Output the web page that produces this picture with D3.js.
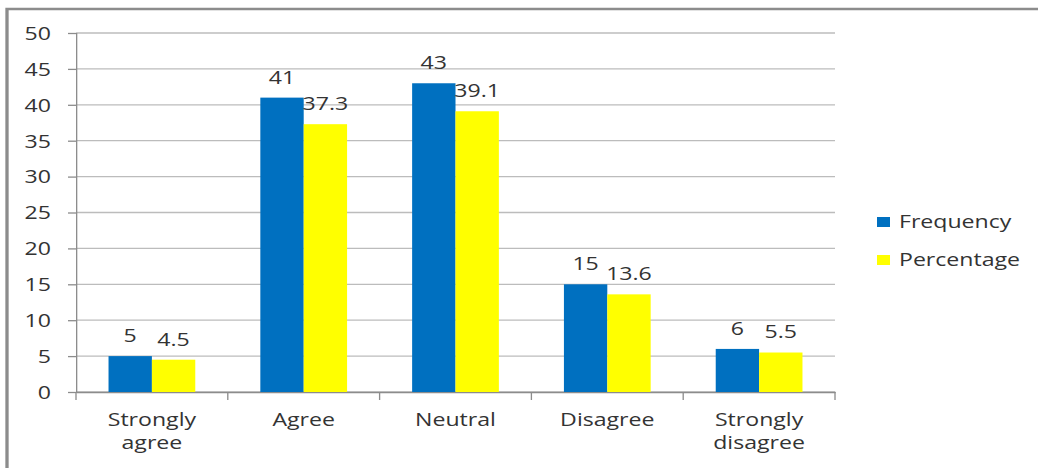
<!DOCTYPE html>
<html lang="en">
<head>
    <meta charset="UTF-8">
    <title>Frequency / Percentage</title>
    <script src="https://cdnjs.cloudflare.com/ajax/libs/d3/7.8.5/d3.min.js"></script>
    <style>
        html, body { margin: 0; padding: 0; background: #fff; }
        svg { display: block; }
        text { font-family: "Open Sans", sans-serif; fill: #333; }
    </style>
</head>
<body>
    <div id="wrapper"></div>
    <script>
        // data
        const categories = ['Strongly agree', 'Agree', 'Neutral', 'Disagree', 'Strongly disagree']
        const categoryLines = [['Strongly', 'agree'], ['Agree'], ['Neutral'], ['Disagree'], ['Strongly', 'disagree']]
        const seriesNames = ['Frequency', 'Percentage']
        const frequency = [5, 41, 43, 15, 6]
        const percentage = [4.5, 37.3, 39.1, 13.6, 5.5]
        const yTicks = [0, 5, 10, 15, 20, 25, 30, 35, 40, 45, 50]
        const colors = ['#0070C0', '#FFFF00']

        function drawChart() {
            // the picture is stretched sideways, so draw in a narrower box and stretch it
            const sx = 1.32
            const width = 1038
            const height = 468
            const X = px => px / sx

            const svg = d3.select('#wrapper')
                .append('svg')
                    .attr('width', width)
                    .attr('height', height)
                    .attr('viewBox', `0 0 ${X(width)} ${height}`)
                    .attr('preserveAspectRatio', 'none')

            // chart frame
            svg.append('rect')
                .attr('x', X(7))
                .attr('y', 9)
                .attr('width', X(1100))
                .attr('height', 600)
                .attr('fill', 'none')
                .attr('stroke', '#8c8c8c')
                .attr('stroke-width', 2.5)

            const plot = { left: 76, right: 835, top: 33, bottom: 392 }

            const xScale = d3.scaleBand()
                .domain(categories)
                .range([X(plot.left), X(plot.right)])
                .paddingInner(0)
                .paddingOuter(0)

            // gap width 150%: each bar is 1 / 3.5 of a category
            const xSub = d3.scaleBand()
                .domain(seriesNames)
                .range([0, xScale.bandwidth()])
                .paddingInner(0)
                .paddingOuter(0.75)

            const yScale = d3.scaleLinear()
                .domain([0, 50])
                .range([plot.bottom, plot.top])

            // gridlines
            svg.append('g')
                .selectAll('line')
                .data(yTicks)
                .join('line')
                    .attr('x1', X(plot.left))
                    .attr('x2', X(plot.right))
                    .attr('y1', d => yScale(d))
                    .attr('y2', d => yScale(d))
                    .attr('stroke', '#bcbcbc')
                    .attr('stroke-width', 1.3)

            // y axis
            const yAxis = svg.append('g')
                .attr('transform', `translate(${X(plot.left)},0)`)
                .call(d3.axisLeft(yScale).tickValues(yTicks).tickSize(X(8)).tickPadding(X(17)))
            yAxis.select('.domain').attr('stroke', '#8c8c8c').attr('stroke-width', 1)
            yAxis.selectAll('.tick line').attr('stroke', '#8c8c8c').attr('stroke-width', 1.3)
            yAxis.selectAll('.tick text')
                .style('font-family', '"Open Sans", sans-serif')
                .style('font-size', '17.5px')
                .attr('fill', '#333')
                .attr('dy', '0.36em')

            // x axis
            const xAxis = svg.append('g')
                .attr('transform', `translate(0,${plot.bottom})`)
                .call(d3.axisBottom(xScale).tickSize(0).tickFormat(''))
            xAxis.select('.domain').attr('stroke', '#8c8c8c').attr('stroke-width', 1.3)
            xAxis.selectAll('.tick').remove()

            // category separators
            const edges = categories.map(c => xScale(c)).concat([xScale.range()[1]])
            svg.append('g')
                .selectAll('line')
                .data(edges)
                .join('line')
                    .attr('x1', d => d)
                    .attr('x2', d => d)
                    .attr('y1', plot.bottom)
                    .attr('y2', plot.bottom + 8)
                    .attr('stroke', '#8c8c8c')
                    .attr('stroke-width', 1)

            // category labels
            svg.append('g')
                .selectAll('text')
                .data(categories)
                .join('text')
                    .attr('x', d => xScale(d) + xScale.bandwidth() / 2)
                    .attr('y', 426)
                    .attr('text-anchor', 'middle')
                    .style('font-size', '17.5px')
                    .selectAll('tspan')
                    .data((d, i) => categoryLines[i])
                    .join('tspan')
                        .attr('x', function() { return this.parentNode.getAttribute('x') })
                        .attr('dy', (d, i) => i === 0 ? 0 : 23)
                        .text(d => d)

            // bars
            const rows = categories.map((c, i) => ({ category: c, values: [frequency[i], percentage[i]] }))

            const groups = svg.append('g')
                .selectAll('g')
                .data(rows)
                .join('g')
                    .attr('transform', d => `translate(${xScale(d.category)},0)`)

            groups.selectAll('rect')
                .data(d => d.values.map((v, j) => ({ series: seriesNames[j], value: v, j })))
                .join('rect')
                    .attr('x', d => xSub(d.series))
                    .attr('width', xSub.bandwidth())
                    .attr('y', d => yScale(d.value))
                    .attr('height', d => yScale(0) - yScale(d.value))
                    .attr('fill', d => colors[d.j])

            // data labels
            groups.selectAll('text')
                .data(d => d.values.map((v, j) => ({ series: seriesNames[j], value: v })))
                .join('text')
                    .attr('x', d => xSub(d.series) + xSub.bandwidth() / 2)
                    .attr('y', d => yScale(d.value) - 14)
                    .attr('text-anchor', 'middle')
                    .style('font-size', '17.5px')
                    .text(d => d.value)

            // legend
            const legend = svg.append('g')
                .selectAll('g')
                .data(seriesNames)
                .join('g')
                    .attr('transform', (d, i) => `translate(${X(877)},${217 + i * 38})`)

            legend.append('rect')
                .attr('width', X(13))
                .attr('height', 10)
                .attr('fill', (d, i) => colors[i])

            legend.append('text')
                .attr('x', X(22))
                .attr('y', 11)
                .style('font-size', '17.5px')
                .text(d => d)
        }

        drawChart()
    </script>
</body>
</html>
